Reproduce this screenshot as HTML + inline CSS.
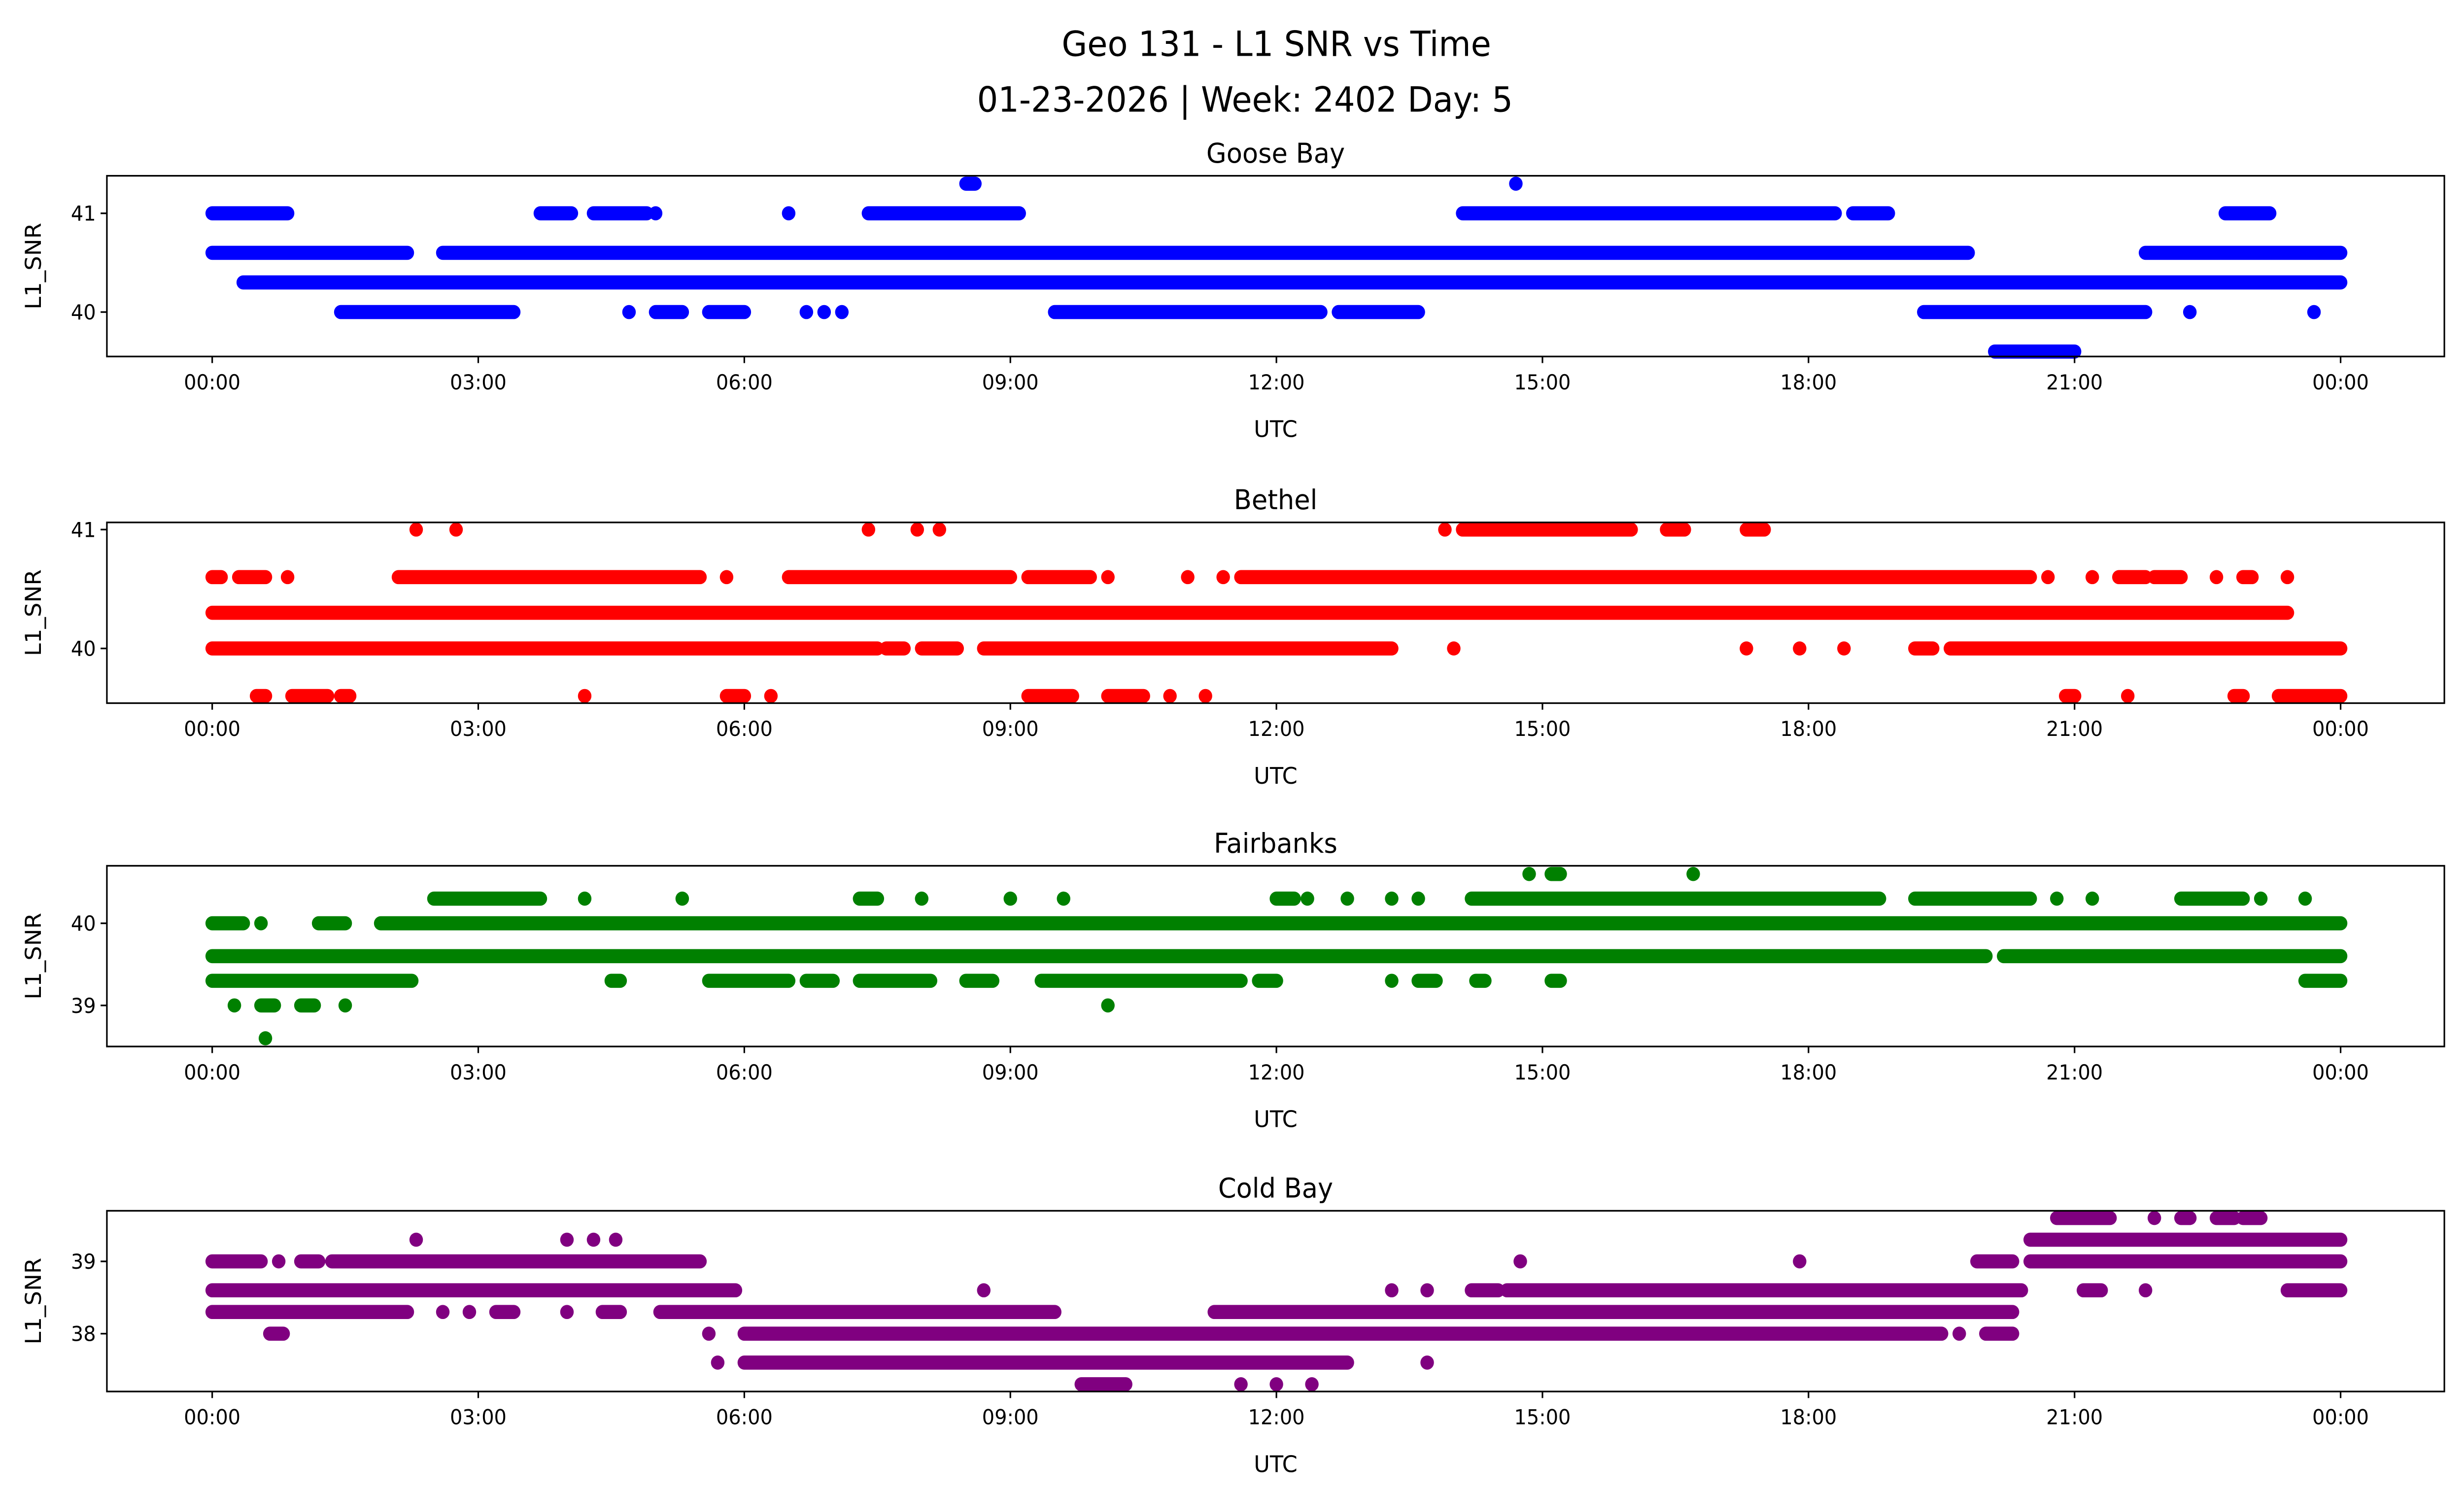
<!DOCTYPE html>
<html><head><meta charset="utf-8"><style>
html,body{margin:0;padding:0;background:#fff;width:100vw;height:100vh;overflow:hidden;}
svg{display:block;position:absolute;left:0;top:0;width:100vw;height:100vh;}
text{font-family:"DejaVu Sans","Liberation Sans",sans-serif;fill:#000;}
</style></head>
<body>
<svg id="chart" viewBox="0 0 1567.5 910" preserveAspectRatio="none" xmlns="http://www.w3.org/2000/svg">
<rect width="1567.5" height="910" fill="#fff"/>
<text x="812" y="34" font-size="21" text-anchor="middle">Geo 131 - L1 SNR vs Time</text>
<text x="792" y="68" font-size="21" text-anchor="middle">01-23-2026 | Week: 2402 Day: 5</text>
<g id="panels"></g>
</svg>
<script>
// Each run: [startHour, endHour, SNR]; a single point has start == end
const gooseRuns = [
 [0,0.85,41],[3.7,4.05,41],[4.3,4.9,41],[5.0,5.0,41],[6.5,6.5,41],[7.4,9.1,41],[14.1,18.3,41],[18.5,18.9,41],[22.7,23.2,41],
 [8.5,8.6,41.3],[14.7,14.7,41.3],
 [0,2.2,40.6],[2.6,19.8,40.6],[21.8,24,40.6],
 [0.35,24,40.3],
 [1.45,3.4,40],[4.7,4.7,40],[5.0,5.3,40],[5.6,6.0,40],[6.7,6.7,40],[6.9,6.9,40],[7.1,7.1,40],[9.5,12.5,40],[12.7,13.6,40],[19.3,21.8,40],[22.3,22.3,40],[23.7,23.7,40],
 [20.1,21.0,39.6]
];
const bethelRuns = [
 [2.3,2.3,41],[2.75,2.75,41],[7.4,7.4,41],[7.95,7.95,41],[8.2,8.2,41],[13.9,13.9,41],[14.1,16.0,41],[16.4,16.6,41],[17.3,17.5,41],
 [0,0.1,40.6],[0.3,0.6,40.6],[0.85,0.85,40.6],[2.1,5.5,40.6],[5.8,5.8,40.6],[6.5,9.0,40.6],[9.2,9.9,40.6],[10.1,10.1,40.6],[11.0,11.0,40.6],[11.4,11.4,40.6],[11.6,20.5,40.6],[20.7,20.7,40.6],[21.2,21.2,40.6],[21.5,21.8,40.6],[21.9,22.2,40.6],[22.6,22.6,40.6],[22.9,23.0,40.6],[23.4,23.4,40.6],
 [0,23.4,40.3],
 [0,7.5,40],[7.6,7.8,40],[8.0,8.4,40],[8.7,13.3,40],[14.0,14.0,40],[17.3,17.3,40],[17.9,17.9,40],[18.4,18.4,40],[19.2,19.4,40],[19.6,24,40],
 [0.5,0.6,39.6],[0.9,1.3,39.6],[1.45,1.55,39.6],[4.2,4.2,39.6],[5.8,6.0,39.6],[6.3,6.3,39.6],[9.2,9.7,39.6],[10.1,10.5,39.6],[10.8,10.8,39.6],[11.2,11.2,39.6],[20.9,21.0,39.6],[21.6,21.6,39.6],[22.8,22.9,39.6],[23.3,24,39.6]
];
const fairRuns = [
 [14.85,14.85,40.6],[15.1,15.2,40.6],[16.7,16.7,40.6],
 [2.5,3.7,40.3],[4.2,4.2,40.3],[5.3,5.3,40.3],[7.3,7.5,40.3],[8.0,8.0,40.3],[9.0,9.0,40.3],[9.6,9.6,40.3],[12.0,12.2,40.3],[12.35,12.35,40.3],[12.8,12.8,40.3],[13.3,13.3,40.3],[13.6,13.6,40.3],[14.2,18.8,40.3],[19.2,20.5,40.3],[20.8,20.8,40.3],[21.2,21.2,40.3],[22.2,22.9,40.3],[23.1,23.1,40.3],[23.6,23.6,40.3],
 [0,0.35,40],[0.55,0.55,40],[1.2,1.5,40],[1.9,24,40],
 [0,20.0,39.6],[20.2,24,39.6],
 [0,2.25,39.3],[4.5,4.6,39.3],[5.6,6.5,39.3],[6.7,7.0,39.3],[7.3,8.1,39.3],[8.5,8.8,39.3],[9.35,11.6,39.3],[11.8,12.0,39.3],[13.3,13.3,39.3],[13.6,13.8,39.3],[14.25,14.35,39.3],[15.1,15.2,39.3],[23.6,24,39.3],
 [0.25,0.25,39],[0.55,0.7,39],[1.0,1.15,39],[1.5,1.5,39],[10.1,10.1,39],
 [0.6,0.6,38.6]
];
const coldRuns = [
 [20.8,21.4,39.6],[21.9,21.9,39.6],[22.2,22.3,39.6],[22.6,22.8,39.6],[22.9,23.1,39.6],
 [2.3,2.3,39.3],[4.0,4.0,39.3],[4.3,4.3,39.3],[4.55,4.55,39.3],[20.5,24,39.3],
 [0,0.55,39],[0.75,0.75,39],[1.0,1.2,39],[1.35,5.5,39],[14.75,14.75,39],[17.9,17.9,39],[19.9,20.3,39],[20.5,24,39],
 [0,5.9,38.6],[8.7,8.7,38.6],[13.3,13.3,38.6],[13.7,13.7,38.6],[14.2,14.5,38.6],[14.6,20.4,38.6],[21.1,21.3,38.6],[21.8,21.8,38.6],[23.4,24,38.6],
 [0,2.2,38.3],[2.6,2.6,38.3],[2.9,2.9,38.3],[3.2,3.4,38.3],[4.0,4.0,38.3],[4.4,4.6,38.3],[5.05,9.5,38.3],[11.3,20.3,38.3],
 [0.65,0.8,38],[5.6,5.6,38],[6.0,19.5,38],[19.7,19.7,38],[20.0,20.3,38],
 [5.7,5.7,37.6],[6.0,12.8,37.6],[13.7,13.7,37.6],
 [9.8,10.3,37.3],[11.6,11.6,37.3],[12.0,12.0,37.3],[12.4,12.4,37.3]
];
const tickLabels = ["00:00","03:00","06:00","09:00","12:00","15:00","18:00","21:00","00:00"];
const panelTitles = ["Goose Bay","Bethel","Fairbanks","Cold Bay"];
const panelColors = ["#0000ff","#ff0000","#008000","#800080"];
const yTicks = [[40,41],[40,41],[39,40],[38,39]];
const yLims = [[39.55,41.38],[39.54,41.06],[38.5,40.7],[37.2,39.7]];
const allRuns = [gooseRuns,bethelRuns,fairRuns,coldRuns];

const NS="http://www.w3.org/2000/svg";
const g=document.getElementById('panels');
const L=68,R=1555,X0=135,X1=1489;
const tops=[107,318,527,737], H=110;
function el(tag,attrs,parent){const e=document.createElementNS(NS,tag);for(const k in attrs)e.setAttribute(k,attrs[k]);parent.appendChild(e);return e;}
const xScale=h=>X0+(X1-X0)*h/24;
for(let p=0;p<4;p++){
  const top=tops[p],bot=top+H,[lo,hi]=yLims[p];
  const yScale=v=>bot-(v-lo)/(hi-lo)*H;
  const pg=el('g',{},g);
  
  
  const t=el('text',{x:(L+R)/2,y:top-8,'font-size':16.5,'text-anchor':'middle'},pg);
  t.textContent=panelTitles[p];
  
  
  const sg=el('g',{stroke:panelColors[p],'stroke-width':8.6,'stroke-linecap':'round',fill:'none'},pg);
  
  
  for(const r of allRuns[p]){
    const ln=el('line',{x1:xScale(r[0]),x2:xScale(r[1]),y1:yScale(r[2]),y2:yScale(r[2])},sg);
    
    
  }
  const fr=el('rect',{x:L,y:top,width:R-L,height:H,fill:'none',stroke:'#000','stroke-width':1},pg);
  
  
  tickLabels.forEach((lab,i)=>{
    const x=xScale(i*3);
    el('line',{x1:x,x2:x,y1:bot,y2:bot+4,stroke:'#000','stroke-width':1},pg);
    const tt=el('text',{x:x,y:bot+20,'font-size':12.5,'text-anchor':'middle'},pg);
    tt.textContent=lab;
    
    
  });
  const xl=el('text',{x:(L+R)/2,y:bot+49,'font-size':14,'text-anchor':'middle'},pg);
  xl.textContent='UTC';
  
  
  for(const v of yTicks[p]){
    const y=yScale(v);
    el('line',{x1:L-4,x2:L,y1:y,y2:y,stroke:'#000','stroke-width':1},pg);
    const yt=el('text',{x:L-7,y:y+4.5,'font-size':12.5,'text-anchor':'end'},pg);
    yt.textContent=String(v);
    
    
  }
  const yl=el('text',{x:0,y:0,'font-size':14,'text-anchor':'middle',transform:`translate(26,${top+H/2}) rotate(-90)`},pg);
  yl.textContent='L1_SNR';
  
  
}
</script>
</body></html>
